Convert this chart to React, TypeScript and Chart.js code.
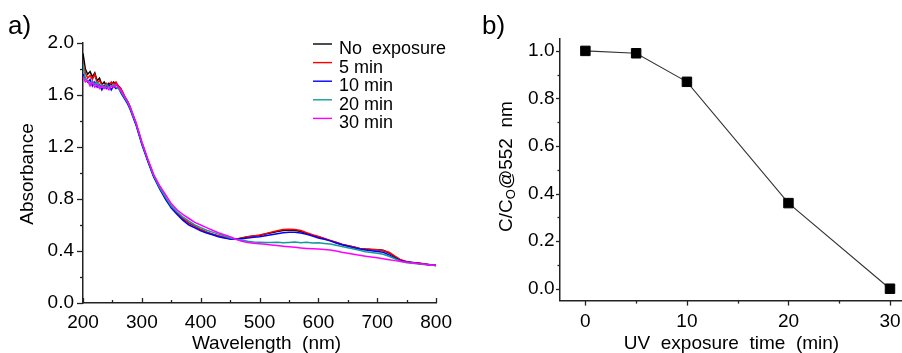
import React, { useEffect, useRef } from 'react';
import { Chart, registerables } from 'chart.js';

Chart.register(...registerables);

const FONT = '"Liberation Sans", Arial, Helvetica, sans-serif';

// ---------- Panel a) data ----------
const wavelengths = [
  200, 204, 208, 212, 216, 220, 224, 228, 232, 236, 240, 244, 248, 252, 256, 260, 264, 268, 272, 276, 280,
  290, 300,
  310, 320, 330, 340, 350, 360, 370, 380, 390, 400,
  410, 420, 430, 440, 450, 460, 470, 480, 490, 500,
  510, 520, 530, 540, 550, 560, 570, 580, 590, 600,
  610, 620, 630, 640, 650, 660, 670, 680, 690, 700,
  710, 720, 730, 740, 750, 760, 770, 780, 790, 800,
];

const absNoExposure = [
  1.92, 1.80, 1.76, 1.78, 1.74, 1.77, 1.71, 1.73, 1.68, 1.70, 1.67, 1.69, 1.68, 1.70, 1.68, 1.67, 1.65, 1.61, 1.58, 1.55, 1.51,
  1.38, 1.23,
  1.10, 0.98, 0.89, 0.81, 0.74, 0.69, 0.645, 0.615, 0.59, 0.565,
  0.545, 0.53, 0.515, 0.505, 0.495, 0.49, 0.50, 0.51, 0.515, 0.52,
  0.53, 0.54, 0.55, 0.558, 0.562, 0.56, 0.55, 0.535, 0.52, 0.51,
  0.495, 0.48, 0.465, 0.45, 0.44, 0.43, 0.42, 0.415, 0.412, 0.41,
  0.405, 0.385, 0.355, 0.33, 0.318, 0.312, 0.307, 0.30, 0.295, 0.29,
];

const abs5min = [
  1.85, 1.77, 1.73, 1.75, 1.72, 1.76, 1.69, 1.71, 1.68, 1.67, 1.69, 1.67, 1.70, 1.68, 1.70, 1.67, 1.65, 1.62, 1.57, 1.54, 1.50,
  1.38, 1.23,
  1.10, 0.98, 0.89, 0.81, 0.745, 0.69, 0.65, 0.615, 0.59, 0.565,
  0.545, 0.53, 0.515, 0.505, 0.495, 0.49, 0.50, 0.51, 0.515, 0.523,
  0.533, 0.545, 0.556, 0.565, 0.568, 0.566, 0.557, 0.54, 0.525, 0.512,
  0.497, 0.482, 0.467, 0.452, 0.441, 0.43, 0.42, 0.415, 0.412, 0.41,
  0.402, 0.39, 0.36, 0.332, 0.318, 0.31, 0.305, 0.30, 0.294, 0.288,
];

const abs10min = [
  1.76, 1.73, 1.70, 1.72, 1.67, 1.70, 1.66, 1.68, 1.64, 1.67, 1.65, 1.68, 1.64, 1.67, 1.65, 1.66, 1.62, 1.59, 1.56, 1.53, 1.49,
  1.37, 1.22,
  1.09, 0.97, 0.88, 0.80, 0.73, 0.68, 0.635, 0.60, 0.578, 0.555,
  0.538, 0.525, 0.51, 0.50, 0.493, 0.49, 0.495, 0.50, 0.505, 0.51,
  0.518, 0.525, 0.533, 0.54, 0.545, 0.545, 0.538, 0.528, 0.515, 0.50,
  0.49, 0.478, 0.462, 0.448, 0.436, 0.425, 0.415, 0.408, 0.402, 0.396,
  0.39, 0.37, 0.345, 0.325, 0.315, 0.31, 0.304, 0.298, 0.292, 0.288,
];

const abs20min = [
  1.84, 1.72, 1.71, 1.69, 1.71, 1.68, 1.70, 1.67, 1.68, 1.66, 1.68, 1.66, 1.67, 1.68, 1.66, 1.65, 1.63, 1.60, 1.57, 1.54, 1.50,
  1.38, 1.23,
  1.10, 0.98, 0.89, 0.815, 0.745, 0.70, 0.66, 0.63, 0.60, 0.58,
  0.56, 0.545, 0.53, 0.515, 0.50, 0.49, 0.482, 0.475, 0.47, 0.468,
  0.466, 0.465, 0.468, 0.464, 0.466, 0.469, 0.463, 0.467, 0.462, 0.464,
  0.458, 0.453, 0.445, 0.435, 0.425, 0.415, 0.405, 0.395, 0.389, 0.383,
  0.375, 0.36, 0.34, 0.32, 0.31, 0.305, 0.30, 0.296, 0.292, 0.288,
];

const abs30min = [
  1.74, 1.70, 1.71, 1.67, 1.70, 1.66, 1.68, 1.65, 1.67, 1.65, 1.66, 1.64, 1.67, 1.66, 1.68, 1.66, 1.64, 1.61, 1.58, 1.55, 1.51,
  1.39, 1.24,
  1.11, 0.99, 0.905, 0.835, 0.765, 0.715, 0.68, 0.65, 0.62, 0.60,
  0.58, 0.56, 0.54, 0.525, 0.51, 0.49, 0.475, 0.465, 0.46, 0.455,
  0.451, 0.447, 0.442, 0.437, 0.433, 0.428, 0.424, 0.42, 0.417, 0.415,
  0.412, 0.408, 0.40, 0.39, 0.382, 0.375, 0.367, 0.36, 0.354, 0.348,
  0.34, 0.333, 0.326, 0.32, 0.314, 0.309, 0.303, 0.298, 0.292, 0.288,
];

const seriesLabels = ['No  exposure', '5 min', '10 min', '20 min', '30 min'];
const seriesColors = ['#000000', '#ff0000', '#0000ff', '#139a9a', '#ff00ff'];
const seriesValues = [absNoExposure, abs5min, abs10min, abs20min, abs30min];

// ---------- Panel b) data ----------
const times = [0, 5, 10, 20, 30];
const ratios = [1.0, 0.99, 0.87, 0.36, 0.0];

// ---------- ticks / texts ----------
const aXMinorTicks = [250, 350, 450, 550, 650, 750];
const aYMinorTicks = [0.2, 0.6, 1.0, 1.4, 1.8];
const bXMinorTicks = [5, 15, 25];
const bYMinorTicks = [0.1, 0.3, 0.5, 0.7, 0.9];

const aXTitle = 'Wavelength  (nm)';
const aYTitle = 'Absorbance';
const bXTitle = 'UV  exposure  time  (min)';
const bYTitleParts = ['C/C', 'O', '@552  nm'];
const panelLabels = ['a)', 'b)'];

type TickSpec = { id: string; minor: number[]; major: number; minorLen: number; dir: 'in' | 'out' };

function decorPlugin(cfg: {
  ticks: TickSpec[];
  draw: (ctx: CanvasRenderingContext2D, chart: any) => void;
}) {
  return {
    id: 'decor',
    afterDraw(chart: any) {
      const ctx: CanvasRenderingContext2D = chart.ctx;
      ctx.save();
      ctx.strokeStyle = '#222';
      ctx.lineWidth = 1.3;
      for (const t of cfg.ticks) {
        const scale = chart.scales[t.id];
        const majors = scale.ticks.map((k: any) => k.value);
        const one = (v: number, len: number) => {
          const p = Math.round(scale.getPixelForValue(v)) + 0.5;
          ctx.beginPath();
          if (scale.isHorizontal()) {
            const y0 = chart.chartArea.bottom;
            ctx.moveTo(p, y0);
            ctx.lineTo(p, y0 + (t.dir === 'out' ? len : -len));
          } else {
            const x0 = chart.chartArea.left;
            ctx.moveTo(x0, p);
            ctx.lineTo(x0 + (t.dir === 'out' ? -len : len), p);
          }
          ctx.stroke();
        };
        majors.forEach((v: number) => one(v, t.major));
        t.minor.forEach((v) => one(v, t.minorLen));
      }
      ctx.restore();
      ctx.save();
      cfg.draw(ctx, chart);
      ctx.restore();
    },
  };
}

const tickFont = { family: FONT, size: 19 };

export default function App() {
  const aRef = useRef<HTMLCanvasElement>(null);
  const bRef = useRef<HTMLCanvasElement>(null);

  useEffect(() => {
    Chart.defaults.font.family = FONT;

    const chartA = new Chart(aRef.current as HTMLCanvasElement, {
      type: 'line',
      data: {
        datasets: seriesValues.map((vals, i) => ({
          label: seriesLabels[i],
          data: wavelengths.map((w, k) => ({ x: w, y: vals[k] })),
          borderColor: seriesColors[i],
          borderWidth: 1.5,
          pointRadius: 0,
          fill: false,
          tension: 0,
          order: seriesValues.length - i,
        })),
      },
      options: {
        responsive: false,
        animation: false,
        devicePixelRatio: 1,
        events: [],
        layout: { padding: { top: 43, right: 21, left: 0, bottom: 0 } },
        plugins: { legend: { display: false }, tooltip: { enabled: false } },
        scales: {
          x: {
            type: 'linear',
            min: 200,
            max: 800,
            ticks: { stepSize: 100, font: tickFont, color: '#000', padding: 8, maxRotation: 0, autoSkip: false },
            grid: { display: false, drawTicks: false },
            border: { display: true, color: '#222', width: 1.5 },
            afterFit: (s: any) => { s.height = 50; },
          },
          y: {
            type: 'linear',
            min: 0,
            max: 2,
            ticks: {
              stepSize: 0.4,
              font: tickFont,
              color: '#000',
              padding: 9,
              callback: (v: any) => Number(v).toFixed(1),
            },
            grid: { display: false, drawTicks: false },
            border: { display: true, color: '#222', width: 1.5 },
            afterFit: (s: any) => { s.width = 83; },
          },
        },
      },
      plugins: [
        decorPlugin({
          ticks: [
            { id: 'x', minor: aXMinorTicks, major: 5, minorLen: 3, dir: 'in' },
            { id: 'y', minor: aYMinorTicks, major: 6, minorLen: 3, dir: 'out' },
          ],
          draw: (ctx, chart) => {
            ctx.fillStyle = '#000';
            ctx.font = `26px ${FONT}`;
            ctx.textAlign = 'left';
            ctx.textBaseline = 'alphabetic';
            ctx.fillText(panelLabels[0], 8, 34);
            ctx.font = `19px ${FONT}`;
            ctx.textAlign = 'center';
            ctx.fillText(aXTitle, 266.5, 349);
            ctx.save();
            ctx.translate(33.3, 174);
            ctx.rotate(-Math.PI / 2);
            ctx.fillText(aYTitle, 0, 0);
            ctx.restore();
            ctx.font = `18px ${FONT}`;
            ctx.textAlign = 'left';
            chart.data.datasets.forEach((ds: any, i: number) => {
              const ly = 44 + i * 18.6;
              ctx.strokeStyle = ds.borderColor;
              ctx.lineWidth = 1.4;
              ctx.beginPath();
              ctx.moveTo(313, ly);
              ctx.lineTo(332, ly);
              ctx.stroke();
              ctx.fillStyle = '#000';
              ctx.fillText(ds.label, 339, ly + 10);
            });
          },
        }),
      ],
    } as any);

    const chartB = new Chart(bRef.current as HTMLCanvasElement, {
      type: 'line',
      data: {
        datasets: [
          {
            label: 'C/C0',
            data: times.map((t, k) => ({ x: t, y: ratios[k] })),
            borderColor: '#333',
            borderWidth: 1.1,
            pointStyle: 'rect',
            pointRadius: 6.7,
            pointBackgroundColor: '#000',
            pointBorderColor: '#000',
            pointBorderWidth: 1,
            fill: false,
            tension: 0,
            clip: false,
          },
        ],
      },
      options: {
        responsive: false,
        animation: false,
        devicePixelRatio: 1,
        events: [],
        layout: { padding: { top: 39, right: 9.7, left: 0, bottom: 0 } },
        plugins: { legend: { display: false }, tooltip: { enabled: false } },
        scales: {
          x: {
            type: 'linear',
            min: -2.5,
            max: 32,
            ticks: { stepSize: 10, includeBounds: false, font: tickFont, color: '#000', padding: 10, maxRotation: 0, autoSkip: false },
            grid: { display: false, drawTicks: false },
            border: { display: true, color: '#222', width: 1.5 },
            afterFit: (s: any) => { s.height = 52.4; },
          },
          y: {
            type: 'linear',
            min: -0.05,
            max: 1.05,
            ticks: {
              stepSize: 0.2,
              includeBounds: false,
              font: tickFont,
              color: '#000',
              padding: 5.5,
              callback: (v: any) => Number(v).toFixed(1),
            },
            grid: { display: false, drawTicks: false },
            border: { display: true, color: '#222', width: 1.5 },
            afterFit: (s: any) => { s.width = 100; },
          },
        },
      },
      plugins: [
        decorPlugin({
          ticks: [
            { id: 'x', minor: bXMinorTicks, major: 5, minorLen: 3, dir: 'out' },
            { id: 'y', minor: bYMinorTicks, major: 4, minorLen: 2.5, dir: 'out' },
          ],
          draw: (ctx) => {
            ctx.fillStyle = '#000';
            ctx.font = `26px ${FONT}`;
            ctx.textAlign = 'left';
            ctx.textBaseline = 'alphabetic';
            ctx.fillText(panelLabels[1], 22, 34);
            ctx.font = `19px ${FONT}`;
            ctx.textAlign = 'center';
            ctx.fillText(bXTitle, 271.5, 348.5);
            ctx.save();
            ctx.translate(51.7, 166.5);
            ctx.rotate(-Math.PI / 2);
            ctx.textAlign = 'left';
            ctx.font = `19px ${FONT}`;
            const w1 = ctx.measureText(bYTitleParts[0]).width;
            const w3 = ctx.measureText(bYTitleParts[2]).width;
            ctx.font = `13px ${FONT}`;
            const w2 = ctx.measureText(bYTitleParts[1]).width;
            let x = -(w1 + w2 + w3) / 2;
            ctx.font = `19px ${FONT}`;
            ctx.fillText(bYTitleParts[0], x, 0);
            x += w1;
            ctx.font = `13px ${FONT}`;
            ctx.fillText(bYTitleParts[1], x, 3);
            x += w2;
            ctx.font = `19px ${FONT}`;
            ctx.fillText(bYTitleParts[2], x, 0);
            ctx.restore();
          },
        }),
      ],
    } as any);

    return () => {
      chartA.destroy();
      chartB.destroy();
    };
  }, []);

  return (
    <div
      style={{
        position: 'fixed',
        left: 0,
        top: 0,
        width: 902,
        height: 353,
        overflow: 'hidden',
        background: '#fff',
      }}
    >
      <canvas
        ref={aRef}
        width={460}
        height={353}
        style={{ position: 'absolute', left: 0, top: 0, width: 460, height: 353, display: 'block' }}
      />
      <canvas
        ref={bRef}
        width={460}
        height={353}
        style={{ position: 'absolute', left: 460, top: 0, width: 460, height: 353, display: 'block' }}
      />
    </div>
  );
}
